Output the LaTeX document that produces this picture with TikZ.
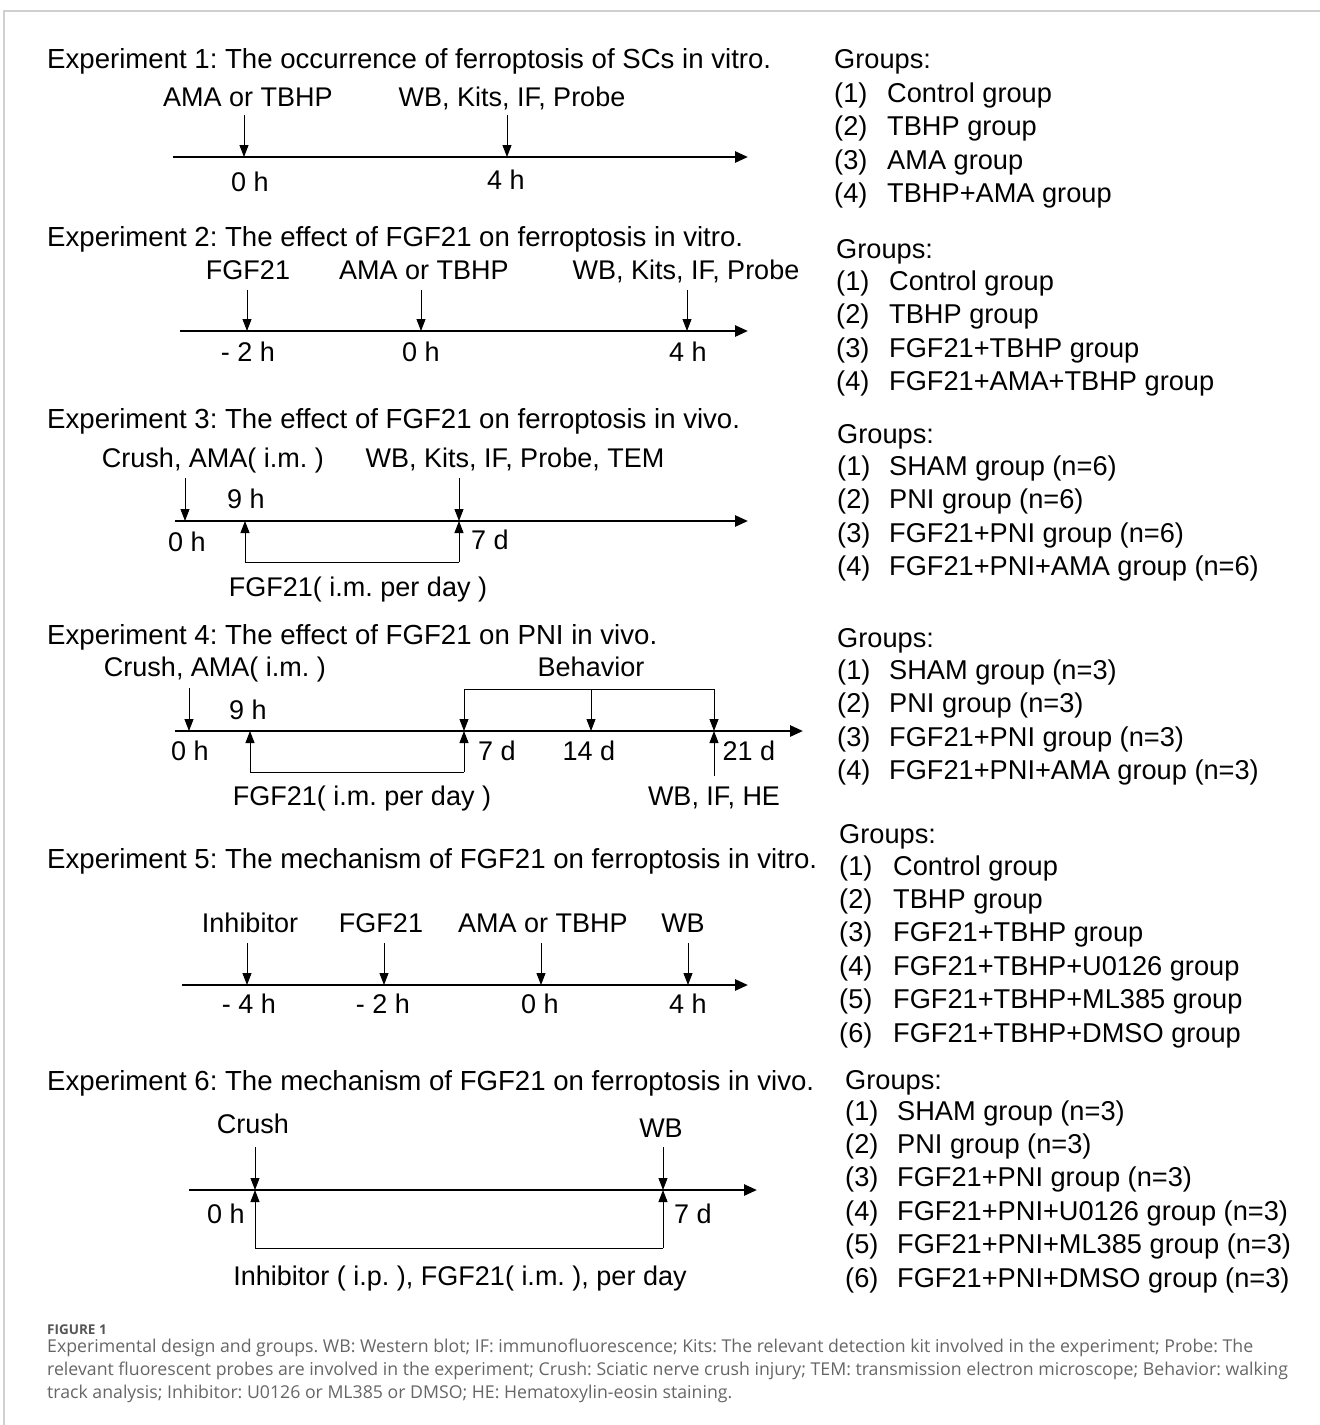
\documentclass[tikz,border=0pt]{standalone}
\usepackage{fontspec}
\setmainfont{Liberation Sans}
\newfontfamily\capfont{Open Sans}
\usetikzlibrary{arrows.meta}
\definecolor{capgray}{HTML}{666666}
\definecolor{figgray}{HTML}{555555}
\definecolor{framegray}{HTML}{D0D0D0}

\begin{document}
\frenchspacing
\begin{tikzpicture}[x=1pt,y=-1pt,
  txt/.style={font=\fontsize{27}{32}\selectfont, inner sep=0pt},
  lbl/.style={txt, anchor=base},
  ttl/.style={font=\fontsize{27.6}{32}\selectfont, inner sep=0pt, anchor=base west},
  grp/.style={font=\fontsize{27.2}{32}\selectfont, inner sep=0pt, anchor=base west},
  axis/.style={line width=2.6pt, -{Triangle[length=13pt,width=11pt]}},
  ar/.style={line width=0.9pt, -{Triangle[length=12pt,width=9pt]}},
  br/.style={line width=0.9pt},
  fig/.style={font=\capfont\bfseries\fontsize{13.5}{16}\selectfont, text=figgray, anchor=base west, inner sep=0pt},
  captext/.style={font=\capfont\fontsize{17.7}{22}\selectfont, text=capgray, anchor=base west, inner sep=0pt}]

\useasboundingbox (0,0) rectangle (1320,1425);
\draw[framegray, line width=1.5pt] (4,1425) -- (4,11) -- (1320,11);

% experiment 1
\node[ttl] (t1) at (47,68) {Experiment 1: The occurrence of ferroptosis of SCs in vitro.};
\coordinate (s1) at (173,157);
\coordinate (e1) at (748,157);
\draw[axis] (s1) -- (e1);
\node[lbl] (l1a) at (248,106) {AMA or TBHP};
\node[lbl] (l1b) at (512,106) {WB, Kits, IF, Probe};
\foreach \n/\x in {a/244,b/507}{
  \coordinate (u1\n) at (\x,115);
  \coordinate (d1\n) at (\x,157);
  \draw[ar] (u1\n) -- (d1\n);
}
\node[lbl] (h1a) at (250,191) {0 h};
\node[lbl] (h1b) at (506,189) {4 h};

% experiment 2
\node[ttl] (t2) at (47,246) {Experiment 2: The effect of FGF21 on ferroptosis in vitro.};
\coordinate (s2) at (180,331);
\coordinate (e2) at (748,331);
\draw[axis] (s2) -- (e2);
\node[lbl] (l2a) at (248,279) {FGF21};
\node[lbl] (l2b) at (424,279) {AMA or TBHP};
\node[lbl] (l2c) at (686,279) {WB, Kits, IF, Probe};
\foreach \n/\x in {a/247,b/421,c/687}{
  \coordinate (u2\n) at (\x,290);
  \coordinate (d2\n) at (\x,331);
  \draw[ar] (u2\n) -- (d2\n);
}
\node[lbl] (h2a) at (248,361) {- 2 h};
\node[lbl] (h2b) at (421,361) {0 h};
\node[lbl] (h2c) at (688,361) {4 h};

% experiment 3
\node[ttl] (t3) at (47,428) {Experiment 3: The effect of FGF21 on ferroptosis in vivo.};
\coordinate (s3) at (175,521);
\coordinate (e3) at (748,521);
\draw[axis] (s3) -- (e3);
\node[lbl] (l3a) at (213,467) {Crush, AMA( i.m. )};
\node[lbl] (l3b) at (515,467) {WB, Kits, IF, Probe, TEM};
\foreach \n/\x in {a/185,b/459}{
  \coordinate (u3\n) at (\x,478);
  \coordinate (d3\n) at (\x,521);
  \draw[ar] (u3\n) -- (d3\n);
}
\coordinate (f3a) at (245,562);
\coordinate (f3b) at (459,562);
\coordinate (m3a) at (245,521);
\draw[ar] (f3a) -- (m3a);
\draw[ar] (f3b) -- (d3b);
\draw[br] (f3a) -- (f3b);
\node[lbl] (n3) at (246,508) {9 h};
\node[lbl] (h3a) at (187,551) {0 h};
\node[lbl] (h3b) at (490,549) {7 d};
\node[lbl] (f3) at (358,596) {FGF21( i.m. per day )};

% experiment 4
\node[ttl] (t4) at (47,644) {Experiment 4: The effect of FGF21 on PNI in vivo.};
\coordinate (s4) at (175,731);
\coordinate (e4) at (803,731);
\draw[axis] (s4) -- (e4);
\node[lbl] (l4a) at (215,676) {Crush, AMA( i.m. )};
\node[lbl] (l4b) at (591,676) {Behavior};
\coordinate (u4a) at (189,688);
\coordinate (d4a) at (189,731);
\draw[ar] (u4a) -- (d4a);
\coordinate (c4a) at (464,689);
\coordinate (c4c) at (714,689);
\draw[br] (c4a) -- (c4c);
\foreach \n/\x in {a/464,b/591,c/714}{
  \coordinate (c4\n) at (\x,689);
  \coordinate (k4\n) at (\x,731);
  \draw[ar] (c4\n) -- (k4\n);
}
\coordinate (f4a) at (250,772);
\coordinate (f4b) at (464,772);
\coordinate (m4a) at (250,731);
\draw[ar] (f4a) -- (m4a);
\draw[ar] (f4b) -- (k4a);
\draw[br] (f4a) -- (f4b);
\coordinate (w4) at (714,776);
\draw[ar] (w4) -- (k4c);
\node[lbl] (n4) at (248,719) {9 h};
\node[lbl] (h4a) at (190,760) {0 h};
\node[lbl] (h4b) at (497,760) {7 d};
\node[lbl] (h4c) at (589,760) {14 d};
\node[lbl] (h4d) at (749,760) {21 d};
\node[lbl] (f4) at (362,805) {FGF21( i.m. per day )};
\node[lbl] (w4l) at (714,805) {WB, IF, HE};

% experiment 5
\node[ttl] (t5) at (47,868) {Experiment 5: The mechanism of FGF21 on ferroptosis in vitro.};
\coordinate (s5) at (182,985);
\coordinate (e5) at (748,985);
\draw[axis] (s5) -- (e5);
\node[lbl] (l5a) at (250,932) {Inhibitor};
\node[lbl] (l5b) at (381,932) {FGF21};
\node[lbl] (l5c) at (543,932) {AMA or TBHP};
\node[lbl] (l5d) at (683,932) {WB};
\foreach \n/\x in {a/247,b/384,c/541,d/688}{
  \coordinate (u5\n) at (\x,943);
  \coordinate (d5\n) at (\x,985);
  \draw[ar] (u5\n) -- (d5\n);
}
\node[lbl] (h5a) at (249,1013) {- 4 h};
\node[lbl] (h5b) at (383,1013) {- 2 h};
\node[lbl] (h5c) at (540,1013) {0 h};
\node[lbl] (h5d) at (688,1013) {4 h};

% experiment 6
\node[ttl] (t6) at (47,1090) {Experiment 6: The mechanism of FGF21 on ferroptosis in vivo.};
\coordinate (s6) at (189,1190);
\coordinate (e6) at (757,1190);
\draw[axis] (s6) -- (e6);
\node[lbl] (l6a) at (253,1133) {Crush};
\node[lbl] (l6b) at (661,1137) {WB};
\foreach \n/\x in {a/255,b/663}{
  \coordinate (u6\n) at (\x,1147);
  \coordinate (d6\n) at (\x,1190);
  \coordinate (f6\n) at (\x,1248);
  \draw[ar] (u6\n) -- (d6\n);
  \draw[ar] (f6\n) -- (d6\n);
}
\draw[br] (f6a) -- (f6b);
\node[lbl] (h6a) at (226,1223) {0 h};
\node[lbl] (h6b) at (693,1223) {7 d};
\node[lbl] (f6) at (460,1285) {Inhibitor ( i.p. ), FGF21( i.m. ), per day};

% groups
\node[grp] (g1) at (834,68) {Groups:};
\foreach \t [count=\i] in {Control group, TBHP group, AMA group, TBHP+AMA group}{
  \node[grp] (g1n\i) at (834,68.5+33.5*\i) {(\i)};
  \node[grp] (g1t\i) at (887,68.5+33.5*\i) {\t};
}
\node[grp] (g2) at (836,258) {Groups:};
\foreach \t [count=\i] in {Control group, TBHP group, FGF21+TBHP group, FGF21+AMA+TBHP group}{
  \node[grp] (g2n\i) at (836,256.5+33.5*\i) {(\i)};
  \node[grp] (g2t\i) at (889,256.5+33.5*\i) {\t};
}
\node[grp] (g3) at (837,443) {Groups:};
\foreach \t [count=\i] in {SHAM group (n=6), PNI group (n=6), FGF21+PNI group (n=6), FGF21+PNI+AMA group (n=6)}{
  \node[grp] (g3n\i) at (837,441.5+33.5*\i) {(\i)};
  \node[grp] (g3t\i) at (889,441.5+33.5*\i) {\t};
}
\node[grp] (g4) at (837,647) {Groups:};
\foreach \t [count=\i] in {SHAM group (n=3), PNI group (n=3), FGF21+PNI group (n=3), FGF21+PNI+AMA group (n=3)}{
  \node[grp] (g4n\i) at (837,645.5+33.5*\i) {(\i)};
  \node[grp] (g4t\i) at (889,645.5+33.5*\i) {\t};
}
\node[grp] (g5) at (839,843) {Groups:};
\foreach \t [count=\i] in {Control group, TBHP group, FGF21+TBHP group, FGF21+TBHP+U0126 group, FGF21+TBHP+ML385 group, FGF21+TBHP+DMSO group}{
  \node[grp] (g5n\i) at (839,841.6+33.4*\i) {(\i)};
  \node[grp] (g5t\i) at (893,841.6+33.4*\i) {\t};
}
\node[grp] (g6) at (845,1089) {Groups:};
\foreach \t [count=\i] in {SHAM group (n=3), PNI group (n=3), FGF21+PNI group (n=3), FGF21+PNI+U0126 group (n=3), FGF21+PNI+ML385 group (n=3), FGF21+PNI+DMSO group (n=3)}{
  \node[grp] (g6n\i) at (845,1086.6+33.4*\i) {(\i)};
  \node[grp] (g6t\i) at (897,1086.6+33.4*\i) {\t};
}

% caption
\node[fig] (fig) at (47,1334) {FIGURE 1};
\node[captext] (c1) at (47,1352) {Experimental design and groups. WB: Western blot; IF: immunofluorescence; Kits: The relevant detection kit involved in the experiment; Probe: The};
\node[captext] (c2) at (47,1375) {relevant fluorescent probes are involved in the experiment; Crush: Sciatic nerve crush injury; TEM: transmission electron microscope; Behavior: walking};
\node[captext] (c3) at (47,1398) {track analysis; Inhibitor: U0126 or ML385 or DMSO; HE: Hematoxylin-eosin staining.};
\end{tikzpicture}
\end{document}
